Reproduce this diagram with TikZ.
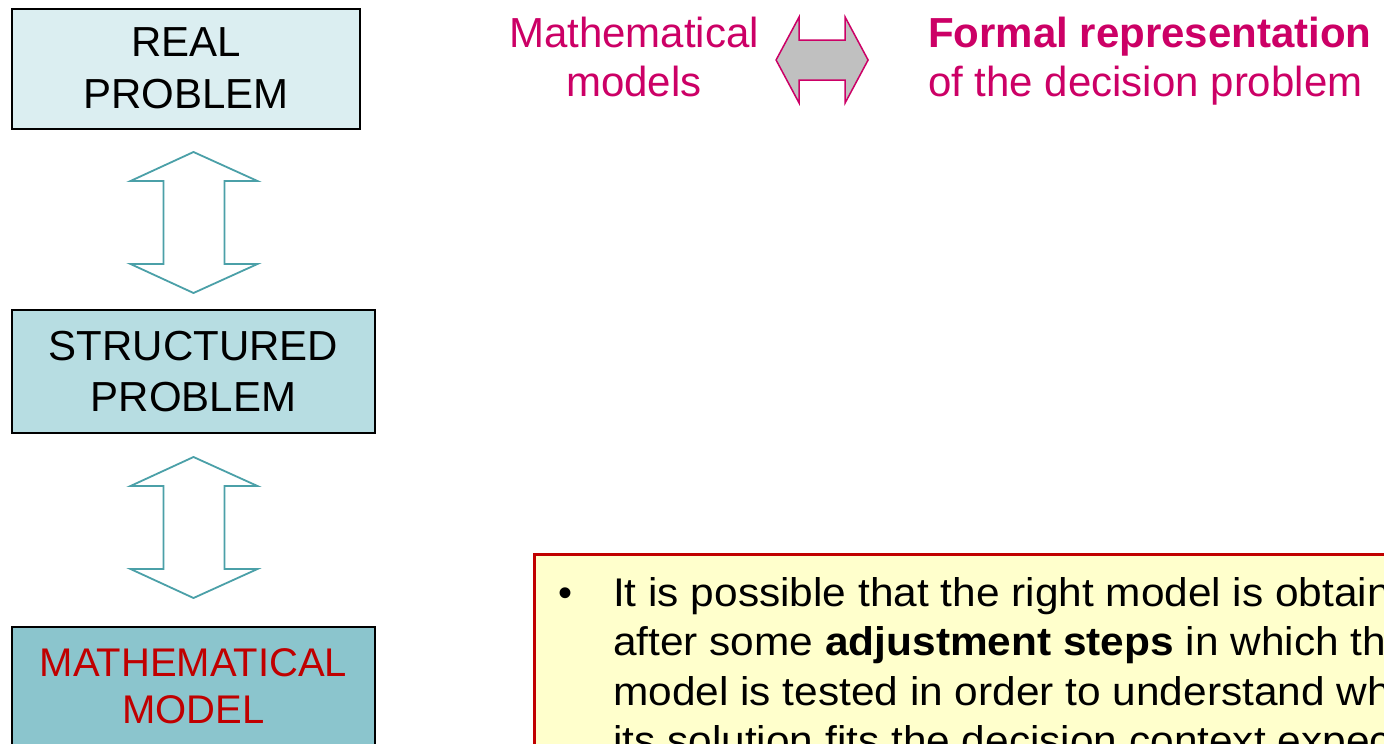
\documentclass[tikz,border=0pt]{standalone}
\usepackage{fontspec}
\setmainfont{Liberation Sans}
\newfontfamily\notefont[FakeStretch=1.06]{Liberation Sans}
\usetikzlibrary{positioning, calc}
\definecolor{boxA}{RGB}{219,238,241}
\definecolor{boxB}{RGB}{183,221,226}
\definecolor{boxC}{RGB}{139,197,205}
\definecolor{arrowteal}{RGB}{75,160,168}
\definecolor{magent}{RGB}{204,0,102}
\definecolor{darkred}{RGB}{192,0,0}
\definecolor{paleyellow}{RGB}{255,255,204}
\definecolor{arrowgray}{RGB}{192,192,192}
\tikzset{
  probbox/.style={draw, line width=2pt, fill=#1, minimum width=363, minimum height=123,
    align=center, inner sep=0pt, font=\fontsize{42}{51}\selectfont},
  hollowarr/.style={draw=arrowteal, line width=1.8pt, fill=white, line join=miter},
  grayarr/.style={draw=magent, line width=1.5pt, fill=arrowgray, line join=miter},
  notebox/.style={draw=darkred, line width=3pt, fill=paleyellow},
  bigtext/.style={inner sep=0pt, font=\fontsize{42}{49}\selectfont},
  updown/.pic={\draw[hollowarr] (0,0) -- ++(-63,29) -- ++(33,0) -- ++(0,83) -- ++(-33,0)
    -- ++(63,29) -- ++(64,-29) -- ++(-33,0) -- ++(0,-83) -- ++(33,0) -- cycle;},
}

\begin{document}
\begin{tikzpicture}[x=1pt, y=-1pt]
    \useasboundingbox (0,0) rectangle (1384,744);
    \clip (0,0) rectangle (1384,744);
    \fill[white] (0,0) rectangle (1384,744);

    % the three levels
    \node[probbox=boxA, minimum width=348, minimum height=120, font=\fontsize{42}{52}\selectfont] (real) at (186,68.5) {REAL\\PROBLEM};
    \node[probbox=boxB] (struct) at (193.5,371.5) {STRUCTURED\\PROBLEM};
    \node[probbox=boxC, minimum height=118, text=darkred, font=\fontsize{40}{46.5}\selectfont] (mathmod) at (193.5,686) {MATHEMATICAL\\MODEL};
    \pic at ($(struct.north)+(0,-157)$) {updown};
    \pic at ($(struct.south)+(0,23)$) {updown};

    % heading
    \node[bigtext, text=magent, align=center] (models) at (634,57) {Mathematical\\models};
    \node[bigtext, text=magent, align=left, anchor=west] (formal) at (928,61.5)
      {\textbf{Formal representation}\\of the decision problem};
    \coordinate (gl) at ($(models.east)+(17,3)$);
    \draw[grayarr] (gl) -- ++(23,-43) -- ++(0,23) -- ++(46,0) -- ++(0,-23) -- ++(23,43)
      -- ++(-23,43) -- ++(0,-23) -- ++(-46,0) -- ++(0,23) -- cycle;

    % remark
    \node[notebox, minimum width=1000, minimum height=300, anchor=north west] (note) at (533,553) {};
    \node[inner sep=0pt, font=\fontsize{40}{49}\selectfont, anchor=base] (bul) at (565,606) {\textbullet};
    \node[inner sep=0pt, font=\notefont\fontsize{40}{49.5}\selectfont, align=left, anchor=north west] (notetext) at (613,577)
      {It is possible that the right model is obtained\\
       after some \textbf{adjustment steps} in which the\\
       model is tested in order to understand whether\\
       its solution fits the decision context expectations};
\end{tikzpicture}
\end{document}
